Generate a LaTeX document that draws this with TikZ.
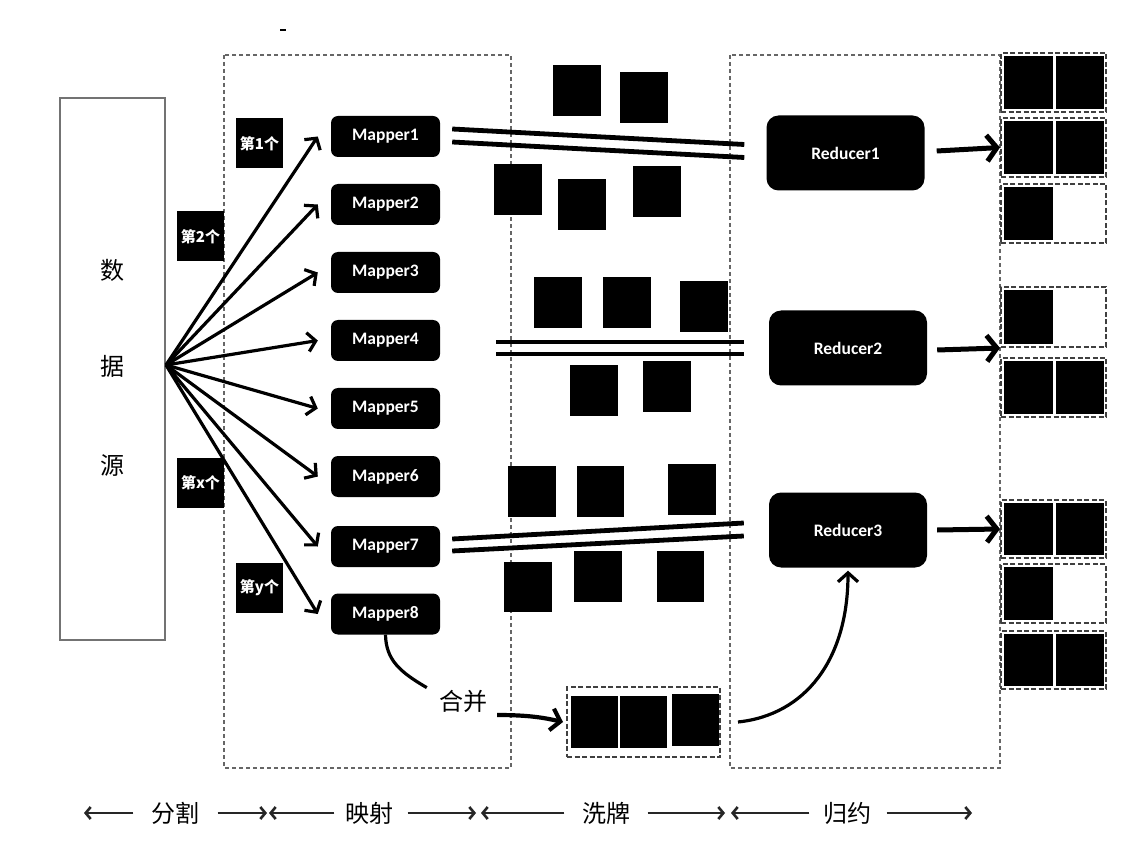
\documentclass[tikz,border=0pt]{standalone}
\usepackage{fontspec}
\newfontfamily\cjk{Noto Sans CJK SC}
\newfontfamily\mapfont{Carlito}[BoldFont={* Bold}]
\usetikzlibrary{arrows.meta,calc}
\newcommand\outL[1]{\fill ($(#1.north west)+(4,4)$) rectangle ($(#1.south)+(-0.5,-4)$);}
\newcommand\outR[1]{\fill ($(#1.north)+(2.5,4)$) rectangle ($(#1.south east)+(-3,-4)$);}
\begin{document}
\begin{tikzpicture}[x=1pt,y=-1pt,
 mapper/.style={fill=black, rounded corners=7pt, minimum width=109pt, minimum height=41pt, text=white, font=\mapfont\bfseries\fontsize{17.5}{19}\selectfont, inner sep=0pt},
 reducer/.style={mapper, rounded corners=12pt, minimum width=158pt, minimum height=75pt},
 tag/.style={fill=black, text=white, minimum width=47pt, minimum height=50pt, inner sep=0pt, font=\cjk\bfseries\fontsize{15}{16}\selectfont},
 fan/.style={line width=3.2pt, -{Straight Barb[length=8pt,width=19pt]}},
 dl/.style={line width=4.8pt},
 big/.style={line width=5pt, -{Straight Barb[length=10pt,width=26pt]}},
 frame/.style={draw=black!60, line width=1.3pt, dash pattern=on 4pt off 3pt},
 obox/.style={draw=black!75, line width=2pt, dash pattern=on 5pt off 2.5pt, minimum width=105pt, inner sep=0pt},
 curv/.style={line width=3.2pt, -{Straight Barb[length=9pt,width=20pt]}},
 ba/.style={line width=2.6pt, draw=black!85, -{Straight Barb[length=5pt,width=12pt]}},
 cjkt/.style={font=\cjk\fontsize{24}{26}\selectfont, inner sep=0pt},
]
\useasboundingbox (0,0) rectangle (1146,858);
\fill[white] (0,0) rectangle (1146,858);

% stray mark
\draw[line width=1.5pt] (280,30) -- (286,30);

% frames
\draw[frame] (224,55) rectangle (511,768);
\draw[frame] (730,55) rectangle (1000,768);

% data source
\node[draw=black!55, line width=1.5pt, minimum width=105pt, minimum height=542pt, inner sep=0pt] (src) at (112.5,369) {};
\node[cjkt] at (112,270) {数};
\node[cjkt] at (112,366) {据};
\node[cjkt] at (112,466) {源};
\coordinate (fo) at (166,365);

% tags
\node[tag] (t1) at (259.5,143.5) {第1个};
\node[tag] (t2) at (200.5,236.5) {第2个};
\node[tag] (tx) at (200.5,482.5) {第x个};
\node[tag] (ty) at (259.5,587.5) {第y个};

% mappers
\node[mapper] (m1) at (385.5,136.5) {Mapper1};
\node[mapper] (m2) at (385.5,204.5) {Mapper2};
\node[mapper] (m3) at (385.5,272.5) {Mapper3};
\node[mapper] (m4) at (385.5,340.5) {Mapper4};
\node[mapper] (m5) at (385.5,408.5) {Mapper5};
\node[mapper] (m6) at (385.5,476.5) {Mapper6};
\node[mapper] (m7) at (385.5,546.5) {Mapper7};
\node[mapper] (m8) at (385.5,614) {Mapper8};

\foreach \m in {m1,m2,m3,m4,m5,m6,m7,m8}
  \draw[fan] (fo) -- ([xshift=-13pt]\m.west);

% reducers
\node[reducer] (r1) at (845.5,153) {Reducer1};
\node[reducer] (r2) at (848,348) {Reducer2};
\node[reducer] (r3) at (848,530) {Reducer3};

% double lines
\draw[dl] ([xshift=12pt,yshift=7.5pt]m1.east) -- ([xshift=-22pt,yshift=8.5pt]r1.west);
\draw[dl] ([xshift=12pt,yshift=-5.5pt]m1.east) -- ([xshift=-22pt,yshift=-4.5pt]r1.west);
\draw[dl] ([xshift=56pt,yshift=-1.5pt]m4.east) -- ([xshift=-25pt,yshift=6pt]r2.west);
\draw[dl] ([xshift=56pt,yshift=-13.5pt]m4.east) -- ([xshift=-25pt,yshift=-6pt]r2.west);
\draw[dl] ([xshift=12pt,yshift=7.5pt]m7.east) -- ([xshift=-25pt,yshift=7pt]r3.west);
\draw[dl] ([xshift=12pt,yshift=-4.5pt]m7.east) -- ([xshift=-25pt,yshift=-6pt]r3.west);

% shuffle squares
\fill (553,65) rectangle (601,116);
\fill (620,72) rectangle (668,123);
\fill (494,164) rectangle (542,215);
\fill (558,179) rectangle (606,230);
\fill (633,166) rectangle (681,217);
\fill (534,277) rectangle (582,328);
\fill (603,277) rectangle (651,328);
\fill (680,281) rectangle (728,332);
\fill (570,365) rectangle (618,416);
\fill (643,361) rectangle (691,412);
\fill (508,466) rectangle (556,517);
\fill (577,466) rectangle (624,517);
\fill (668,464) rectangle (716,515);
\fill (504,562) rectangle (552,612);
\fill (574,551) rectangle (622,602);
\fill (657,551) rectangle (704,602);

% output boxes
\node[obox, minimum height=59pt] (o11) at (1053.5,82.5) {};
\node[obox, minimum height=59pt] (o12) at (1053.5,147.5) {};
\node[obox, minimum height=59pt] (o13) at (1053.5,213.5) {};
\node[obox, minimum height=60pt] (o21) at (1053.5,317) {};
\node[obox, minimum height=59pt] (o22) at (1053.5,387.5) {};
\node[obox, minimum height=58pt] (o31) at (1053.5,529) {};
\node[obox, minimum height=59pt] (o32) at (1053.5,593.5) {};
\node[obox, minimum height=58pt] (o33) at (1053.5,660) {};
\outL{o11}\outR{o11}
\outL{o12}\outR{o12}
\outL{o13}
\outL{o21}
\outL{o22}\outR{o22}
\outL{o31}\outR{o31}
\outL{o32}
\outL{o33}\outR{o33}

% reducer arrows
\draw[big] ([xshift=12pt,yshift=2pt]r1.east) -- (o12.west);
\draw[big] ([xshift=10pt,yshift=-2pt]r2.east) -- (o21.south west);
\draw[big] ([xshift=10pt]r3.east) -- (o31.west);

% merge
\node[cjkt] (mg) at (463,701) {合并};
\node[obox, minimum width=153pt, minimum height=70pt] (mbox) at (643.5,722) {};
\fill (571,696) rectangle (618,748);
\fill (620,696) rectangle (667,748);
\fill (672,694) rectangle (719,746);
\draw[line width=3.2pt] (m8.south) .. controls (386,660) and (400,672) .. ([xshift=-12pt,yshift=2pt]mg.north west);
\draw[line width=4.2pt, -{Straight Barb[length=9pt,width=22pt]}] ([xshift=10pt,yshift=-14pt]mg.east) .. controls (530,715) and (545,718) .. ([xshift=-3pt]mbox.west);
\draw[curv] ([xshift=17pt]mbox.east) .. controls (805,715) and (848,660) .. ([yshift=-3pt]r3.south);

% bottom labels
\node[cjkt] (l1) at (175.5,813) {分割};
\node[cjkt] (l2) at (369.5,813) {映射};
\node[cjkt] (l3) at (606.5,813) {洗牌};
\node[cjkt] (l4) at (847.5,813) {归约};
\coordinate (b0) at (84,813);
\coordinate (b1) at (268,813);
\coordinate (b2) at (478,813);
\coordinate (b3) at (728,813);
\coordinate (b4) at (972,813);
\draw[ba, shorten <=18pt] (l1.west) -- (b0);
\draw[ba, shorten <=18pt] (l1.east) -- ([xshift=-1pt]b1);
\draw[ba, shorten <=11pt] (l2.west) -- ([xshift=1pt]b1);
\draw[ba, shorten <=14pt] (l2.east) -- ([xshift=-2pt]b2);
\draw[ba, shorten <=18pt] (l3.west) -- ([xshift=3pt]b2);
\draw[ba, shorten <=17pt] (l3.east) -- ([xshift=-3pt]b3);
\draw[ba, shorten <=14pt] (l4.west) -- ([xshift=3pt]b3);
\draw[ba, shorten <=15pt] (l4.east) -- (b4);
\end{tikzpicture}
\end{document}
